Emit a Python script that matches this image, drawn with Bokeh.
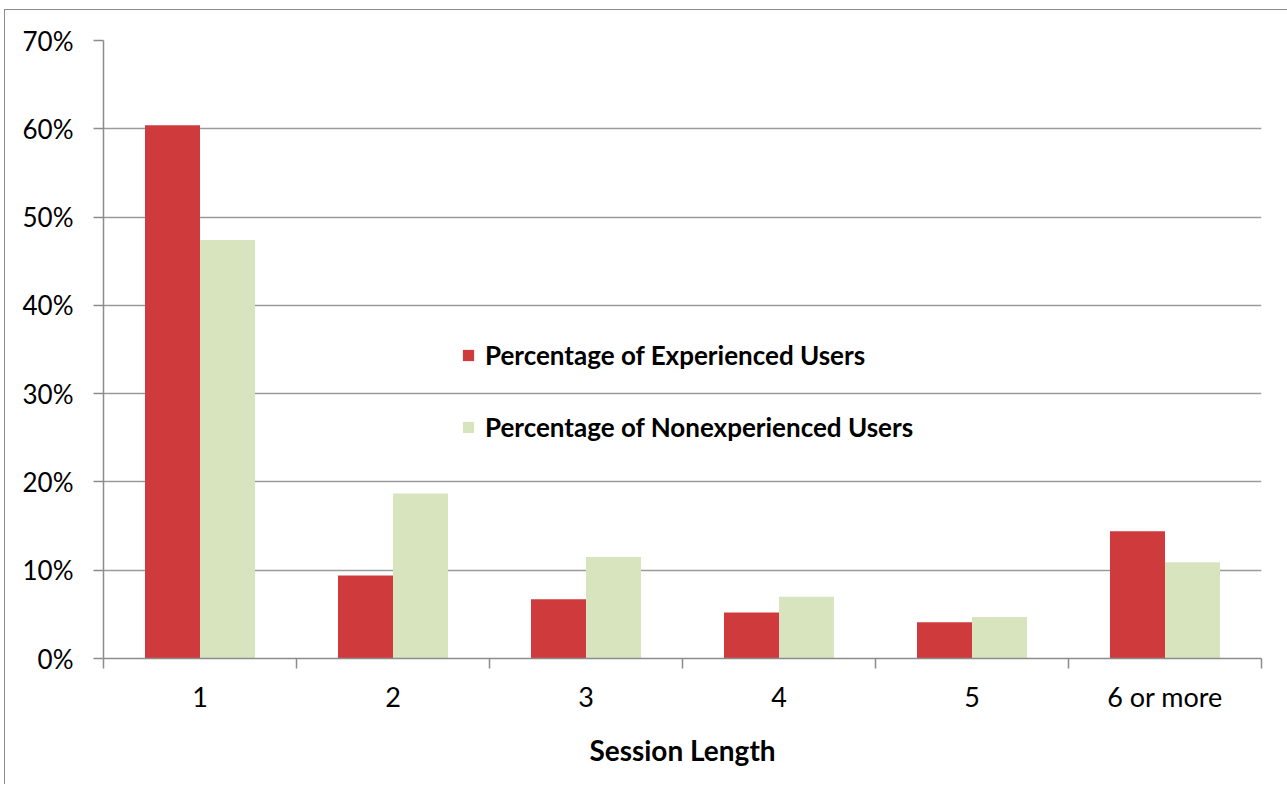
from bokeh.plotting import figure
from bokeh.models import (ColumnDataSource, Range1d, FixedTicker, NumeralTickFormatter,
                          Legend, LegendItem)
from bokeh.transform import dodge
from bokeh.embed import file_html
from bokeh.resources import INLINE

categories = ["1", "2", "3", "4", "5", "6 or more"]
experienced = [0.604, 0.094, 0.067, 0.052, 0.041, 0.144]
nonexperienced = [0.474, 0.187, 0.115, 0.070, 0.047, 0.109]
y_ticks = [0, 0.1, 0.2, 0.3, 0.4, 0.5, 0.6, 0.7]

FONT = "Lato"
AXIS_GRAY = "#8c8c8c"
RED = "#CF3B3C"
GREEN = "#D7E4BD"

pos = [i + 0.5 for i in range(len(categories))]
src = ColumnDataSource(dict(x=pos, exp=experienced, nonexp=nonexperienced))

p = figure(width=1283, height=775, output_backend="svg", toolbar_location=None,
           x_range=Range1d(0, len(categories)), y_range=Range1d(0, 0.7),
           min_border_left=98, min_border_right=27, min_border_top=30, min_border_bottom=127)
p.margin = (9, 0, 0, 4)
p.styles = {"border-left": "1.5px solid #8c8c8c", "border-top": "1.5px solid #8c8c8c"}
p.outline_line_color = None
p.background_fill_color = "white"
p.border_fill_color = "white"

bw = 0.285
r1 = p.vbar(x=dodge("x", -bw / 2, range=p.x_range), top="exp", width=bw, source=src,
            fill_color=RED, line_color=None)
r2 = p.vbar(x=dodge("x", bw / 2, range=p.x_range), top="nonexp", width=bw, source=src,
            fill_color=GREEN, line_color=None)

# x axis: labels at centres, tick marks at category boundaries
xa = p.xaxis[0]
xa.ticker = FixedTicker(ticks=pos, minor_ticks=list(range(len(categories) + 1)))
xa.major_label_overrides = {p_: c for p_, c in zip(pos, categories)}
xa.major_tick_line_color = None
xa.major_tick_out = 0
xa.major_tick_in = 0
xa.minor_tick_line_color = AXIS_GRAY
xa.minor_tick_line_width = 1.5
xa.minor_tick_out = 10
xa.minor_tick_in = 0
xa.axis_line_color = AXIS_GRAY
xa.axis_line_width = 1.5
xa.major_label_text_font = FONT
xa.major_label_text_font_size = "27px"
xa.major_label_text_color = "#000000"
xa.major_label_standoff = 11
xa.axis_label = "Session Length"
xa.axis_label_text_font = FONT
xa.axis_label_text_font_style = "bold"
xa.axis_label_text_font_size = "28px"
xa.axis_label_text_color = "#000000"
xa.axis_label_standoff = 17

ya = p.yaxis[0]
ya.ticker = FixedTicker(ticks=y_ticks, minor_ticks=[])
ya.formatter = NumeralTickFormatter(format="0%")
ya.major_tick_line_color = AXIS_GRAY
ya.major_tick_line_width = 1.5
ya.major_tick_out = 10
ya.major_tick_in = 0
ya.minor_tick_line_color = None
ya.axis_line_color = AXIS_GRAY
ya.axis_line_width = 1.5
ya.major_label_text_font = FONT
ya.major_label_text_font_size = "26px"
ya.major_label_text_color = "#000000"
ya.major_label_standoff = 20

p.xgrid.grid_line_color = None
p.ygrid.grid_line_color = "#9a9a9a"
p.ygrid.grid_line_width = 1.5
p.ygrid.ticker = FixedTicker(ticks=y_ticks)

legend = Legend(items=[LegendItem(label="Percentage of Experienced Users", renderers=[r1]),
                       LegendItem(label="Percentage of Nonexperienced Users", renderers=[r2])],
                location=(358, 215))
legend.background_fill_alpha = 0
legend.border_line_color = None
legend.padding = 0
legend.margin = 0
legend.glyph_width = 14
legend.glyph_height = 14
legend.label_standoff = 10
legend.spacing = 40
legend.label_text_font = FONT
legend.label_text_font_style = "bold"
legend.label_text_font_size = "26px"
legend.label_text_color = "#000000"
p.add_layout(legend, "center")

open("out.html", "w").write(file_html(p, INLINE))
